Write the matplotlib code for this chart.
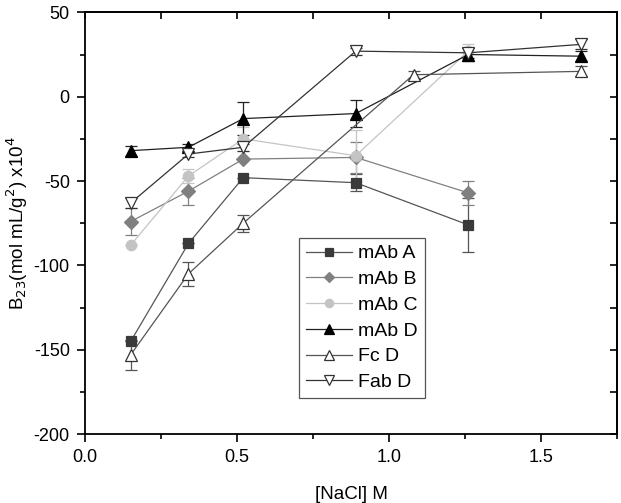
import matplotlib
matplotlib.use("Agg")
import matplotlib.pyplot as plt
from matplotlib.ticker import MultipleLocator

plt.rcParams['font.family'] = ['Liberation Sans', 'DejaVu Sans']
plt.rcParams['axes.unicode_minus'] = False

# data: [NaCl] in M, B23 in mol mL/g^2 x10^4
x_A = [0.15, 0.34, 0.52, 0.89, 1.26]
mab_a = [-145, -87, -48, -51, -76]
mab_a_err = [0, 0, 0, 5, 16]

x_B = [0.15, 0.34, 0.52, 0.89, 1.26]
mab_b = [-74, -56, -37, -36, -57]
mab_b_err = [8, 8, 0, 9, 7]

x_C = [0.15, 0.34, 0.52, 0.89, 1.26]
mab_c = [-88, -47, -25, -35, 27]
mab_c_err = [0, 4, 7, 15, 4]

x_D = [0.15, 0.34, 0.52, 0.89, 1.26, 1.63]
mab_d = [-32, -30, -13, -10, 25, 24]
mab_d_err = [3, 2, 10, 8, 4, 3]

x_Fc = [0.15, 0.34, 0.52, 1.08, 1.63]
fc_d = [-153, -105, -75, 13, 15]
fc_d_err = [9, 7, 5, 2, 3]

x_Fab = [0.15, 0.34, 0.52, 0.89, 1.26, 1.63]
fab_d = [-63, -34, -30, 27, 26, 31]
fab_d_err = [3, 2, 2, 2, 3, 3]

fig = plt.figure(figsize=(6.21, 5.03), dpi=100)
ax = fig.add_axes([0.137, 0.137, 0.857, 0.8385])

series = [
    (x_A, mab_a, mab_a_err, 'mAb A', 's', 6.5, '#3a3a3a', '#3a3a3a', '#555555'),
    (x_B, mab_b, mab_b_err, 'mAb B', 'D', 7, '#808080', '#808080', '#808080'),
    (x_C, mab_c, mab_c_err, 'mAb C', 'o', 7.5, '#c4c4c4', '#c4c4c4', '#c4c4c4'),
    (x_D, mab_d, mab_d_err, 'mAb D', '^', 8.5, 'black', 'black', '#222222'),
    (x_Fc, fc_d, fc_d_err, 'Fc D', '^', 8.5, 'white', '#333333', '#555555'),
    (x_Fab, fab_d, fab_d_err, 'Fab D', 'v', 8.5, 'white', '#333333', '#333333'),
]

for xs, ys, err, lab, mk, ms, fc, ec, lc in series:
    ax.errorbar(xs, ys, yerr=err, fmt='none', ecolor=lc, elinewidth=0.9,
                capsize=4, capthick=0.9, zorder=2)
    ax.plot(xs, ys, color=lc, lw=0.9, marker=mk, markersize=ms,
            markerfacecolor=fc, markeredgecolor=ec, markeredgewidth=0.9,
            label=lab, zorder=3)

ax.set_xlim(0, 1.75)
ax.set_ylim(-200, 50)
ax.xaxis.set_major_locator(MultipleLocator(0.5))
ax.xaxis.set_minor_locator(MultipleLocator(0.25))
ax.yaxis.set_major_locator(MultipleLocator(50))
ax.yaxis.set_minor_locator(MultipleLocator(25))
ax.tick_params(which='major', direction='out', length=6, width=1.2,
               labelsize=13, pad=5)
ax.tick_params(which='minor', direction='out', length=3.5, width=1.2)
ax.xaxis.set_major_formatter(matplotlib.ticker.FormatStrFormatter('%.1f'))

for sp in ax.spines.values():
    sp.set_linewidth(1.3)

# mirrored ticks on top and right pointing into the plot
top = ax.secondary_xaxis('top')
top.xaxis.set_major_locator(MultipleLocator(0.25))
top.tick_params(direction='in', length=5, width=1.2, labeltop=False)
top.spines['top'].set_linewidth(1.3)
right = ax.secondary_yaxis('right')
right.yaxis.set_major_locator(MultipleLocator(25))
right.tick_params(direction='in', length=5, width=1.2, labelright=False)
right.spines['right'].set_linewidth(1.3)

ax.set_xlabel('[NaCl] M', fontsize=13.5, labelpad=14)
ax.set_ylabel('B$_{23}$(mol mL/g$^2$) x10$^4$', fontsize=13.5, labelpad=3)

leg = ax.legend(loc='upper left', bbox_to_anchor=(0.402, 0.465), fontsize=14,
                frameon=True, fancybox=False, edgecolor='#555555', framealpha=1,
                markerscale=0.8, handlelength=2.4, handletextpad=0.3,
                labelspacing=0.42, borderpad=0.35, borderaxespad=0)
leg.get_frame().set_linewidth(0.9)

fig.savefig('out.png', dpi=100)
